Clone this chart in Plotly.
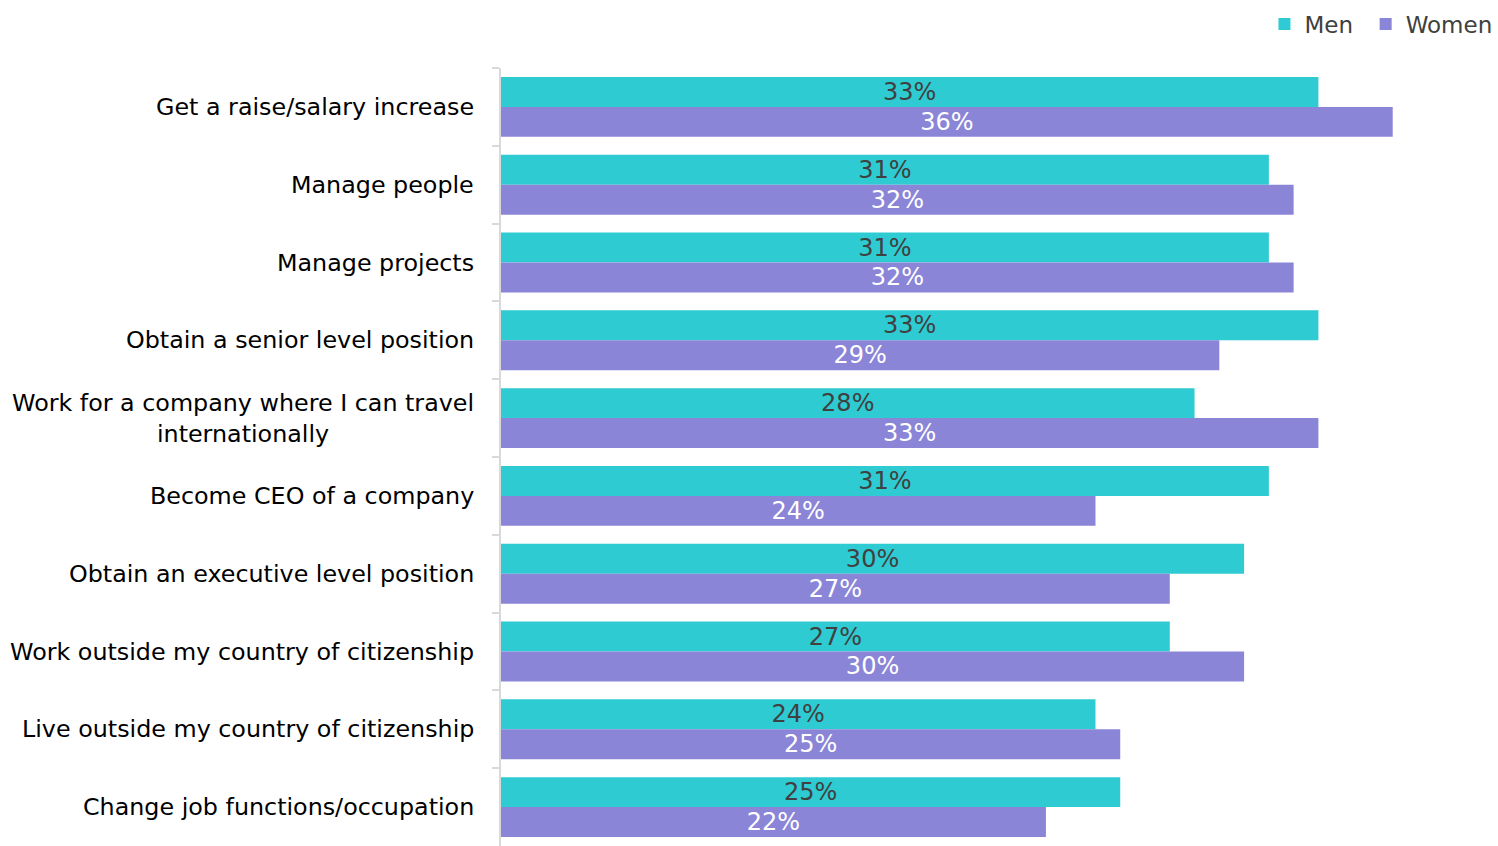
import plotly.graph_objects as go

categories = [
    "Get a raise/salary increase",
    "Manage people",
    "Manage projects",
    "Obtain a senior level position",
    "Work for a company where I can travel<br>internationally",
    "Become CEO of a company",
    "Obtain an executive level position",
    "Work outside my country of citizenship",
    "Live outside my country of citizenship",
    "Change job functions/occupation",
]
men = [33, 31, 31, 33, 28, 31, 30, 27, 24, 25]
women = [36, 32, 32, 29, 33, 24, 27, 30, 25, 22]

FONT = "DejaVu Sans"
TEAL = "#2ecbd2"
PURPLE = "#8b85d8"

fig = go.Figure()
fig.add_trace(go.Bar(
    y=categories, x=men, orientation="h", name="Men", legend="legend",
    marker=dict(color=TEAL, line=dict(width=0)),
    text=[f"{v}%" for v in men], textposition="inside", insidetextanchor="middle",
    textfont=dict(family=FONT, size=24, color="#404040"),
    constraintext="none", hoverinfo="skip",
))
fig.add_trace(go.Bar(
    y=categories, x=women, orientation="h", name="Women", legend="legend2",
    marker=dict(color=PURPLE, line=dict(width=0)),
    text=[f"{v}%" for v in women], textposition="inside", insidetextanchor="middle",
    textfont=dict(family=FONT, size=24, color="#ffffff"),
    constraintext="none", hoverinfo="skip",
))

for c in categories:
    fig.add_annotation(
        x=0, xref="paper", xanchor="right", xshift=-25,
        y=c, yref="y", yanchor="middle",
        text=c, showarrow=False, align="center",
        font=dict(family=FONT, size=23.8, color="#000000"),
    )

legend_style = dict(orientation="h", xanchor="left", y=1.029, yanchor="bottom",
                    yref="paper", font=dict(family=FONT, size=23, color="#404040"),
                    itemwidth=30, bgcolor="rgba(0,0,0,0)")

fig.update_layout(
    width=1498, height=846,
    margin=dict(l=501, r=0, t=68, b=0),
    paper_bgcolor="white", plot_bgcolor="white",
    barmode="group", bargap=0.23, bargroupgap=0,
    font=dict(family=FONT, size=24, color="#404040"),
    legend=dict(x=0.7673, **legend_style),
    legend2=dict(x=0.869, **legend_style),
    showlegend=True,
)
fig.update_xaxes(range=[0, 40.17], visible=False, showgrid=False, zeroline=False)
fig.update_yaxes(autorange="reversed", showticklabels=False, showline=True,
                 linecolor="#d9d9d9", linewidth=2, ticks="outside", tickson="boundaries",
                 ticklen=7, tickcolor="#d9d9d9", tickwidth=2, showgrid=False)

fig.write_html("out.html", config={"displayModeBar": False},
               post_script="document.body.style.margin='0px';document.body.style.overflow='hidden';")
